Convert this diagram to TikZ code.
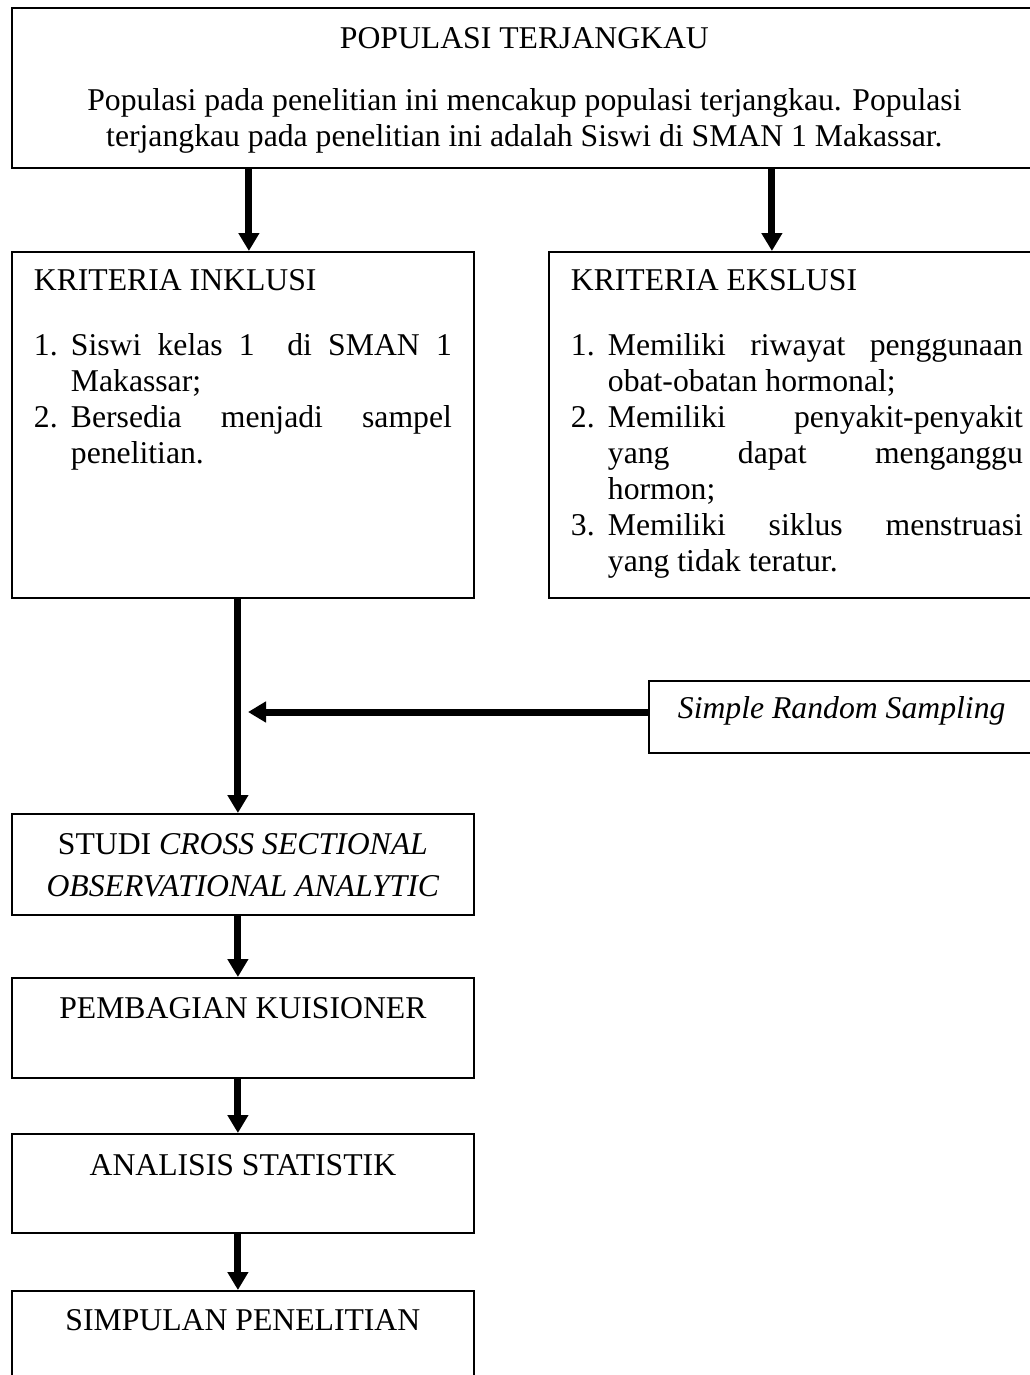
\documentclass[tikz,border=0pt]{standalone}
\usepackage{fontspec}
\setmainfont{Liberation Serif}
\usetikzlibrary{arrows.meta}
\tikzstyle{box} = [rectangle, anchor=north west, draw=black, line width=1.8pt, inner xsep=22pt, inner ysep=0pt]
\tikzstyle{arrow} = [line width=7pt, -{Triangle[length=18pt,width=20pt]}]
\newcommand{\boxbody}[3]{\parbox[c][#2][t]{#1}{\fontsize{31.7}{36}\selectfont #3}}
\newcommand{\nomor}[1]{\makebox[37pt][l]{#1}}

\begin{document}
\begin{tikzpicture}[x=1pt, y=-1pt]
    \useasboundingbox (0,0) rectangle (1029,1375);

    \node (pop) [box] at (11,7.5) {\boxbody{981pt}{159.5pt}{\centering
        \rule{0pt}{40.5pt}POPULASI TERJANGKAU\\[26pt]
        Populasi pada penelitian ini mencakup populasi terjangkau. Populasi\\
        terjangkau pada penelitian ini adalah Siswi di SMAN 1 Makassar.\par}};

    \node (inkl) [box] at (11,251) {\boxbody{418pt}{346pt}{%
        \rule{0pt}{39pt}KRITERIA INKLUSI\\[29pt]
        \nomor{1.}\makebox[381pt][s]{Siswi kelas 1\ \ di SMAN 1}\\
        \hspace*{37pt}Makassar;\\
        \nomor{2.}\makebox[381pt][s]{Bersedia menjadi sampel}\\
        \hspace*{37pt}penelitian.}};
    \node (eksl) [box] at (548,251) {\boxbody{452pt}{346pt}{%
        \rule{0pt}{39pt}KRITERIA EKSLUSI\\[29pt]
        \nomor{1.}\makebox[415pt][s]{Memiliki riwayat penggunaan}\\
        \hspace*{37pt}obat-obatan hormonal;\\
        \nomor{2.}\makebox[415pt][s]{Memiliki penyakit-penyakit}\\
        \hspace*{37pt}\makebox[415pt][s]{yang dapat menganggu}\\
        \hspace*{37pt}hormon;\\
        \nomor{3.}\makebox[415pt][s]{Memiliki siklus menstruasi}\\
        \hspace*{37pt}yang tidak teratur.}};

    \node (srs) [box] at (648,680) {\boxbody{348pt}{72pt}{%
        \rule{0pt}{38pt}\hspace*{7pt}\textit{Simple Random Sampling}}};

    \node (studi) [box] at (11,813) {\boxbody{418pt}{101pt}{\centering
        \rule{0pt}{41pt}STUDI \textit{CROSS SECTIONAL}\\[6pt]
        \textit{OBSERVATIONAL ANALYTIC}\par}};
    \node (pemb) [box] at (11,977) {\boxbody{418pt}{100pt}{\centering
        \rule{0pt}{41pt}PEMBAGIAN KUISIONER\par}};
    \node (anal) [box] at (11,1133) {\boxbody{418pt}{99pt}{\centering
        \rule{0pt}{42pt}ANALISIS STATISTIK\par}};
    \node (simp) [box] at (11,1290) {\boxbody{418pt}{100pt}{\centering
        \rule{0pt}{40pt}SIMPULAN PENELITIAN\par}};

    \coordinate (a1) at ([xshift=6pt]inkl.north);
    \coordinate (a2) at ([xshift=-25pt]eksl.north);
    \coordinate (join) at (248,712);

    \draw [arrow] (pop.south -| a1) -- (a1);
    \draw [arrow] (pop.south -| a2) -- (a2);
    \draw [arrow] ([xshift=-5pt]inkl.south) -- ([xshift=-5pt]studi.north);
    \draw [arrow] (srs.west |- join) -- (join);
    \draw [arrow] ([xshift=-5pt]studi.south) -- ([xshift=-5pt]pemb.north);
    \draw [arrow] ([xshift=-5pt]pemb.south) -- ([xshift=-5pt]anal.north);
    \draw [arrow] ([xshift=-5pt]anal.south) -- ([xshift=-5pt]simp.north);
\end{tikzpicture}
\end{document}
